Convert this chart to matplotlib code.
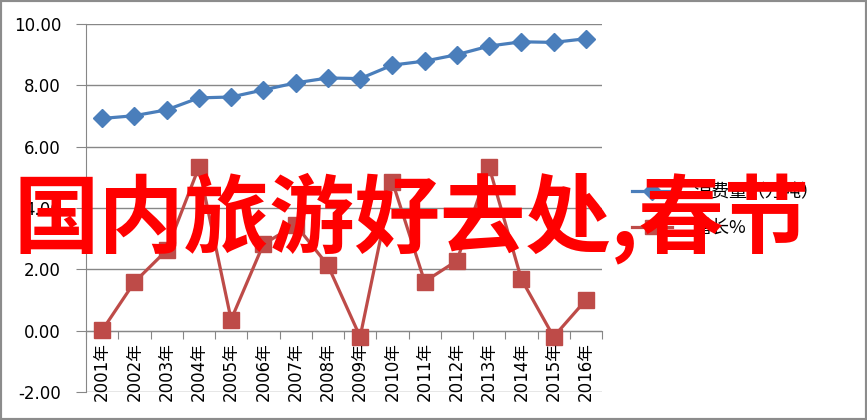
import matplotlib.pyplot as plt
from matplotlib.patches import Rectangle
from matplotlib.lines import Line2D

plt.rcParams['font.family'] = ['DejaVu Sans', 'Noto Sans CJK SC']

# data
years = ['2001年', '2002年', '2003年', '2004年', '2005年', '2006年', '2007年', '2008年',
         '2009年', '2010年', '2011年', '2012年', '2013年', '2014年', '2015年', '2016年']
consumption = [6.92, 7.01, 7.20, 7.59, 7.62, 7.85, 8.08, 8.24,
               8.22, 8.66, 8.79, 9.00, 9.28, 9.42, 9.40, 9.52]
growth = [0.01, 1.58, 2.62, 5.33, 0.36, 2.82, 3.45, 2.13,
          -0.20, 4.86, 1.60, 2.28, 5.34, 1.68, -0.20, 1.00]
yticks = [-2, 0, 2, 4, 6, 8, 10]
series_names = ['消费量（万吨）', '增长%']

blue = '#4A7EBB'
red = '#BE4B48'
grey = '#878787'

fig = plt.figure(figsize=(8.67, 4.20), dpi=100)
ax = fig.add_axes([86 / 867, 28 / 420, 516 / 867, 368 / 420])

x = list(range(len(years)))
ax.plot(x, consumption, color=blue, lw=2.3, marker='D', ms=9, mec=blue, mfc=blue, zorder=3)
ax.plot(x, growth, color=red, lw=2.3, marker='s', ms=11, mec=red, mfc=red, zorder=3)

ax.set_xlim(-0.5, len(years) - 0.5)
ax.set_ylim(-2, 10)
ax.set_yticks(yticks)
ax.set_yticklabels(['%.2f' % v for v in yticks], fontsize=12)
ax.tick_params(axis='y', length=7, color=grey, pad=11)
ax.grid(axis='y', color=grey, lw=1)
ax.set_axisbelow(True)

for s in ['top', 'right']:
    ax.spines[s].set_visible(False)
ax.spines['left'].set_color(grey)
ax.spines['bottom'].set_color(grey)
ax.spines['bottom'].set_position(('data', 0))

ax.set_xticks([i - 0.5 for i in range(len(years) + 1)])
ax.set_xticklabels([])
ax.tick_params(axis='x', length=6, color=grey, direction='out')
for i, lab in enumerate(years):
    ax.annotate(lab, (i, 0), xytext=(0, -8), textcoords='offset points',
                rotation=90, ha='center', va='top', fontsize=12,
                annotation_clip=False)

handles = [Line2D([], [], color=blue, lw=2.3, marker='D', ms=9),
           Line2D([], [], color=red, lw=2.3, marker='s', ms=10)]
fig.legend(handles, series_names, loc='center left', bbox_to_anchor=(632 / 867, 0.5),
           frameon=False, handlelength=2.2, handletextpad=1.2, labelspacing=1.0,
           borderpad=0, borderaxespad=0,
           prop={'family': ['Noto Sans CJK SC', 'DejaVu Sans'], 'size': 13})

# watermark text over the chart
fig.text(14 / 867, 1 - 218 / 420, '国内旅游好去处,春节', color='#FF0000',
         fontsize=61.5, fontweight='bold', family='Noto Sans CJK SC',
         ha='left', va='center', zorder=10)

fig.patches.append(Rectangle((0, 0), 1, 1, transform=fig.transFigure, fill=False,
                             edgecolor='#8C8C8C', lw=3, zorder=20))

fig.savefig('out.png', dpi=100)
